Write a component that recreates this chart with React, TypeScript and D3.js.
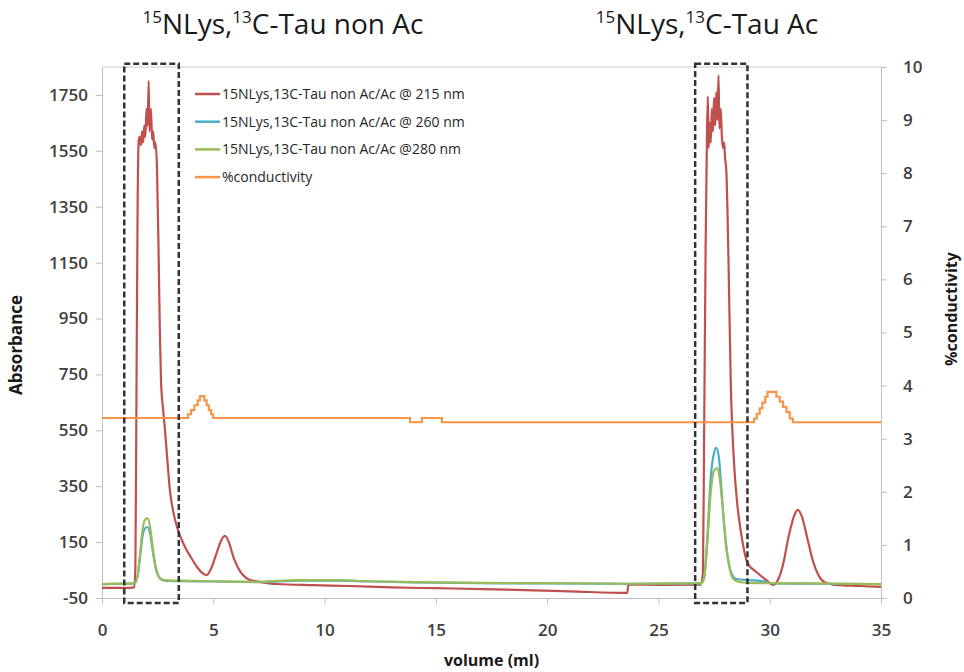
import React, { useEffect, useRef } from 'react';
import * as d3 from 'd3';

// volume (ml) / absorbance (mAU)
const red215: [number, number][] = [
  [0, -14], [1.0, -14], [1.45, -12], [1.5, 60], [1.55, 700], [1.6, 1350], [1.65, 1590],
  [1.7, 1600], [1.75, 1570], [1.8, 1620], [1.85, 1580], [1.9, 1640], [1.95, 1600],
  [2.0, 1700], [2.05, 1640], [2.1, 1800], [2.13, 1620], [2.2, 1700], [2.25, 1590],
  [2.3, 1620], [2.35, 1560], [2.4, 1580], [2.47, 1490], [2.55, 1150], [2.6, 900],
  [2.65, 730], [2.75, 620], [2.83, 551], [2.95, 430], [3.05, 336], [3.2, 260],
  [3.37, 204], [3.6, 155], [3.8, 122], [4.0, 95], [4.27, 61], [4.5, 40], [4.7, 32],
  [4.9, 55], [5.15, 111], [5.35, 155], [5.53, 172], [5.7, 150], [5.9, 97], [6.1, 60],
  [6.33, 32], [6.65, 14], [7.0, 9], [7.86, 0], [9.5, -4], [11.1, -7], [13, -12],
  [15, -15], [17.1, -18], [19, -22], [21, -26], [23.6, -32], [23.65, -2], [25, -3],
  [26.9, -2], [27.0, 40], [27.05, 500], [27.12, 1200], [27.18, 1600], [27.22, 1745],
  [27.26, 1560], [27.3, 1650], [27.35, 1580], [27.4, 1700], [27.45, 1620], [27.5, 1740],
  [27.55, 1640], [27.6, 1760], [27.65, 1660], [27.7, 1820], [27.74, 1630], [27.8, 1700],
  [27.85, 1600], [27.9, 1560], [27.95, 1580], [28.0, 1520], [28.05, 1480], [28.15, 1150],
  [28.25, 720], [28.4, 430], [28.55, 280], [28.7, 190], [28.85, 120], [29.0, 75],
  [29.4, 43], [29.85, 14], [30.15, -3], [30.4, 20], [30.6, 70], [30.85, 170],
  [31.1, 245], [31.27, 265], [31.45, 240], [31.7, 160], [31.95, 80], [32.2, 30],
  [32.5, 5], [33, -3], [34, -7], [35, -10],
];

const blue260: [number, number][] = [
  [0, 0], [1.45, 2], [1.6, 28], [1.7, 90], [1.8, 160], [1.9, 195], [2.03, 204],
  [2.15, 185], [2.25, 135], [2.35, 82], [2.45, 45], [2.6, 20], [2.8, 12], [3.5, 10],
  [5, 9], [7, 7], [8.9, 12], [10.5, 12], [12, 9], [14, 6], [17, 3], [20, 2], [23.6, 1],
  [26.9, 2], [27.05, 22], [27.2, 170], [27.35, 380], [27.5, 470], [27.6, 487],
  [27.72, 450], [27.85, 320], [28.0, 170], [28.15, 80], [28.3, 35], [28.5, 18],
  [29, 14], [29.5, 12], [29.9, 6], [30.2, 2], [32, 1], [35, 0],
];

const green280: [number, number][] = [
  [0, 0], [1.45, 2], [1.6, 30], [1.7, 100], [1.8, 180], [1.9, 225], [2.03, 236],
  [2.15, 210], [2.25, 150], [2.35, 90], [2.45, 50], [2.6, 22], [2.8, 14], [3.5, 12],
  [5, 10], [7, 8], [8.9, 14], [10.5, 14], [12, 10], [14, 7], [17, 4], [20, 3],
  [23.6, 1], [26.9, 2], [27.05, 20], [27.2, 150], [27.35, 330], [27.5, 405],
  [27.63, 415], [27.75, 380], [27.9, 260], [28.05, 130], [28.2, 55], [28.35, 20],
  [28.6, 8], [29, 4], [30, 3], [32, 2], [35, 0],
];

// %conductivity, step values (right axis)
const conductivity: [number, number][] = [
  [0, 3.39], [3.86, 3.46], [4.0, 3.54], [4.15, 3.63], [4.3, 3.72], [4.4, 3.8],
  [4.6, 3.72], [4.7, 3.63], [4.8, 3.54], [4.9, 3.46], [4.99, 3.39], [13.84, 3.31],
  [14.37, 3.39], [15.27, 3.31], [29.3, 3.38], [29.42, 3.47], [29.55, 3.57],
  [29.67, 3.68], [29.8, 3.79], [29.9, 3.88], [30.3, 3.79], [30.45, 3.7], [30.6, 3.6],
  [30.75, 3.5], [30.9, 3.38], [31.04, 3.31], [35, 3.31],
];

const xTicks = [0, 5, 10, 15, 20, 25, 30, 35];
const absTicks = [-50, 150, 350, 550, 750, 950, 1150, 1350, 1550, 1750];
const condTicks = [0, 1, 2, 3, 4, 5, 6, 7, 8, 9, 10];

const legendLabels = [
  '15NLys,13C-Tau non Ac/Ac @ 215 nm',
  '15NLys,13C-Tau non Ac/Ac @ 260 nm',
  '15NLys,13C-Tau non Ac/Ac @280 nm',
  '%conductivity',
];
const colors = ['#c0504d', '#4bacc6', '#9bbb59', '#f79646'];

// dashed selection boxes, volume ranges
const boxes = [
  { x0: 1.0, x1: 3.45 },
  { x0: 26.65, x1: 29.0 },
];

const titles = [
  { a: '15', b: 'NLys,', c: '13', d: 'C-Tau non Ac', x: 283 },
  { a: '15', b: 'NLys,', c: '13', d: 'C-Tau Ac', x: 707 },
];

const FONT = "'Open Sans', 'Liberation Sans', sans-serif";

export default function App() {
  const svgRef = useRef<SVGSVGElement>(null);

  useEffect(() => {
    const svg = d3.select(svgRef.current);
    svg.selectAll('*').remove();

    const width = 964;
    const height = 672;
    const margin = { top: 67, right: 83, bottom: 74, left: 102 };

    const x = d3.scaleLinear().domain([0, 35]).range([margin.left, width - margin.right]);
    const yL = d3.scaleLinear().domain([-50, 1850]).range([height - margin.bottom, margin.top]);
    const yR = d3.scaleLinear().domain([0, 10]).range([height - margin.bottom, margin.top]);

    svg.attr('width', width).attr('height', height).style('font-family', FONT);
    svg.append('rect').attr('width', width).attr('height', height).attr('fill', '#fff');

    // titles
    titles.forEach((t) => {
      const txt = svg.append('text')
        .attr('x', t.x).attr('y', 34)
        .attr('text-anchor', 'middle')
        .attr('font-size', 28)
        .attr('fill', '#1a1a1a');
      txt.append('tspan').attr('font-size', 17).attr('dy', -11).text(t.a);
      txt.append('tspan').attr('dy', 11).text(t.b);
      txt.append('tspan').attr('font-size', 17).attr('dy', -11).text(t.c);
      txt.append('tspan').attr('dy', 11).text(t.d);
    });

    // frame top line
    svg.append('line')
      .attr('x1', x(0)).attr('x2', x(35))
      .attr('y1', yR(10)).attr('y2', yR(10))
      .attr('stroke', '#c8c8c8');

    const styleAxis = (g: d3.Selection<SVGGElement, unknown, null, undefined>) => {
      g.select('.domain').attr('stroke', '#bfbfbf');
      g.selectAll('.tick line').attr('stroke', '#bfbfbf');
      g.selectAll('.tick text')
        .attr('fill', '#404040')
        .style('font-size', '17px')
        .style('font-family', FONT)
        .style('font-weight', 600);
    };

    const plain = (d: d3.NumberValue) => String(d);

    svg.append('g')
      .attr('transform', `translate(${margin.left},0)`)
      .call(d3.axisLeft(yL).tickValues(absTicks).tickFormat(plain).tickSize(6).tickSizeOuter(0).tickPadding(8))
      .call(styleAxis);

    svg.append('g')
      .attr('transform', `translate(${width - margin.right},0)`)
      .call(d3.axisRight(yR).tickValues(condTicks).tickFormat(plain).tickSize(6).tickSizeOuter(0).tickPadding(16))
      .call(styleAxis);

    svg.append('g')
      .attr('transform', `translate(0,${height - margin.bottom})`)
      .call(d3.axisBottom(x).tickValues(xTicks).tickFormat(plain).tickSize(6).tickSizeOuter(0).tickPadding(20))
      .call(styleAxis);

    // axis titles
    svg.append('text')
      .attr('transform', `translate(22,345) rotate(-90)`)
      .attr('text-anchor', 'middle')
      .attr('font-size', 17).attr('font-weight', 700).attr('fill', '#1a1a1a')
      .text('Absorbance');
    svg.append('text')
      .attr('transform', `translate(957,309) rotate(-90)`)
      .attr('text-anchor', 'middle')
      .attr('font-size', 16).attr('font-weight', 700).attr('fill', '#1a1a1a')
      .text('%conductivity');
    svg.append('text')
      .attr('x', (x(0) + x(35)) / 2).attr('y', 666)
      .attr('text-anchor', 'middle')
      .attr('font-size', 16).attr('font-weight', 700).attr('fill', '#1a1a1a')
      .text('volume (ml)');

    // series
    const absLine = d3.line<[number, number]>()
      .x((d) => x(d[0]))
      .y((d) => yL(d[1]))
      .curve(d3.curveMonotoneX);

    const condLine = d3.line<[number, number]>()
      .x((d) => x(d[0]))
      .y((d) => yR(d[1]))
      .curve(d3.curveStepAfter);

    [red215, blue260, green280].forEach((s, i) => {
      svg.append('path')
        .datum(s)
        .attr('fill', 'none')
        .attr('stroke', colors[i])
        .attr('stroke-width', 2.2)
        .attr('stroke-linejoin', 'round')
        .attr('d', absLine);
    });

    svg.append('path')
      .datum(conductivity)
      .attr('fill', 'none')
      .attr('stroke', colors[3])
      .attr('stroke-width', 2.2)
      .attr('d', condLine);

    // dashed boxes
    boxes.forEach((b) => {
      svg.append('rect')
        .attr('x', x(b.x0))
        .attr('y', yL(1862))
        .attr('width', x(b.x1) - x(b.x0))
        .attr('height', yL(-68) - yL(1862))
        .attr('fill', 'none')
        .attr('stroke', '#333')
        .attr('stroke-width', 2.5)
        .attr('stroke-dasharray', '6,3');
    });

    // legend
    const legend = svg.append('g').attr('transform', 'translate(195,94)');
    legendLabels.forEach((label, i) => {
      const row = legend.append('g').attr('transform', `translate(0,${i * 27.7})`);
      row.append('line')
        .attr('x1', 0).attr('x2', 25)
        .attr('stroke', colors[i]).attr('stroke-width', 2.5);
      row.append('text')
        .attr('x', 27).attr('dy', '0.35em')
        .attr('font-size', 14).attr('fill', '#262626')
        .text(label);
    });
  }, []);

  return (
    <svg
      ref={svgRef}
      style={{ position: 'absolute', left: 0, top: 0, display: 'block' }}
    ></svg>
  );
}
